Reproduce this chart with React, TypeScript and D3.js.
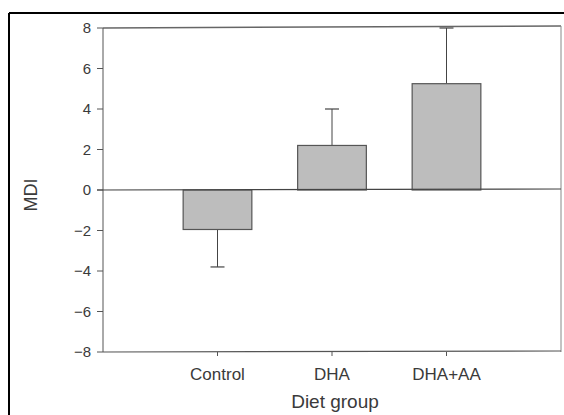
import React from "react";
import * as d3 from "d3";

const categories = ["Control", "DHA", "DHA+AA"];
const means = [-1.95, 2.2, 5.25];
const errors = [-3.8, 4.0, 8.0];
const yTicks = [-8, -6, -4, -2, 0, 2, 4, 6, 8];

export default function App() {
  const W = 564, H = 415;
  const left = 103, right = 561, top = 28, bottom = 352;
  const x = d3.scalePoint<string>().domain(categories).range([left, right]).padding(1);
  const y = d3.scaleLinear().domain([-8, 8]).range([bottom, top]);
  const step = x.step();
  const bw = step * 0.6;
  const ink = "#3a3a3a";
  return (
    <svg width={W} height={H} style={{ position: "absolute", left: 0, top: 0 }} fontFamily="'Liberation Sans', Arial, sans-serif">
      <rect x={0} y={0} width={W} height={H} fill="#fff" />
      {/* outer frame */}
      <line x1={9} y1={13} x2={W} y2={13} stroke="#000" strokeWidth={2} />
      <line x1={9} y1={13} x2={9} y2={H} stroke="#000" strokeWidth={2} />
      {/* plot box */}
      <line x1={left} y1={top} x2={right} y2={top - 2} stroke="#666" strokeWidth={1.5} />
      <line x1={right} y1={top - 2} x2={right} y2={bottom} stroke="#888" strokeWidth={1} />
      <line x1={left} y1={top} x2={left} y2={bottom} stroke="#555" strokeWidth={1} />
      <line x1={left} y1={bottom} x2={right} y2={bottom - 1} stroke="#555" strokeWidth={1.2} />
      {/* y ticks */}
      {yTicks.map((t) => (
        <g key={t}>
          <line x1={left - 6} x2={left} y1={y(t)} y2={y(t)} stroke="#555" />
          <text x={left - 12} y={y(t)} dy="0.36em" textAnchor="end" fontSize={15} fill={ink}>
            {t < 0 ? "\u2212" + Math.abs(t) : t}
          </text>
        </g>
      ))}
      {/* x ticks */}
      {categories.map((c) => (
        <g key={c}>
          <line x1={x(c)!} x2={x(c)!} y1={bottom} y2={bottom + 4} stroke="#555" />
          <text x={x(c)!} y={380} textAnchor="middle" fontSize={17} fill={ink}>{c}</text>
        </g>
      ))}
      {/* bars */}
      {categories.map((c, i) => {
        const cx = x(c)!;
        const y0 = Math.min(y(0), y(means[i]));
        const h = Math.abs(y(means[i]) - y(0));
        return (
          <g key={c}>
            <line x1={cx} x2={cx} y1={y(means[i])} y2={y(errors[i])} stroke="#444" strokeWidth={1} />
            <line x1={cx - 7} x2={cx + 7} y1={y(errors[i])} y2={y(errors[i])} stroke="#444" strokeWidth={1.2} />
            <rect x={cx - bw / 2} y={y0} width={bw} height={h} fill="#bdbdbd" stroke="#555" strokeWidth={1.2} />
          </g>
        );
      })}
      {/* zero line */}
      <line x1={left - 6} x2={right} y1={y(0)} y2={y(0) - 1} stroke="#444" strokeWidth={1.2} />
      {/* axis titles */}
      <text x={335} y={408} textAnchor="middle" fontSize={19} fill={ink}>Diet group</text>
      <text transform={`translate(37,195) rotate(-90)`} textAnchor="middle" fontSize={18} fill={ink}>MDI</text>
    </svg>
  );
}
